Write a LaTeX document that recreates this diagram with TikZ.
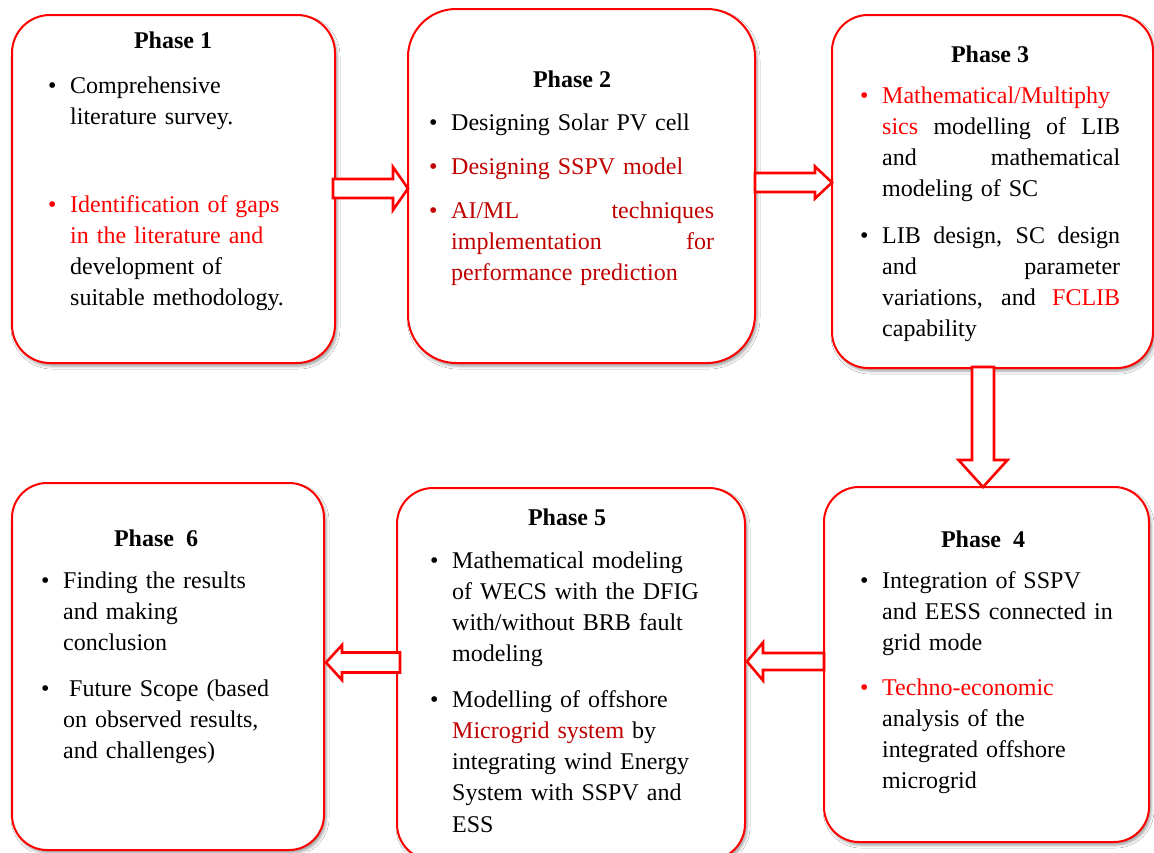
\documentclass[tikz,border=0pt]{standalone}
\usepackage{fontspec}
\setmainfont{Liberation Serif}
\usetikzlibrary{shadows.blur}
\definecolor{bred}{HTML}{FF0000}
\definecolor{dred}{HTML}{C00000}
% bullet hanging to the left of an item's first line
\newcommand{\itm}[1][black]{\llap{\makebox[22pt][l]{\color{#1}\textbullet}}}
% a fully justified line (word spaces allowed to stretch)
\newcommand{\jl}[1]{\makebox[\linewidth][s]{\spaceskip=.3333em plus 20em\relax #1}}
\tikzset{
  phasebox/.style={draw=bred, line width=2pt, fill=white, rounded corners=#1,
    inner sep=0pt, outer sep=0pt, anchor=north west,
    blur shadow={shadow xshift=2pt, shadow yshift=-3pt, shadow blur radius=3pt, shadow opacity=40}},
  phasebox/.default=36pt,
  blockarrow/.style={draw=bred, line width=2.6pt, fill=white, line join=miter},
  ttl/.style={anchor=base, inner sep=0pt, font=\fontsize{24}{31.3}\selectfont\bfseries},
  itemtxt/.style={anchor=base west, inner sep=0pt, align=left, text width=#1,
    font=\fontsize{24}{31.3}\selectfont},
  itemtxt/.default=260pt,
}
\begin{document}
\begin{tikzpicture}[x=1pt, y={(0pt,-1pt)}]
\fill[white] (0,0) rectangle (1154,852);
\useasboundingbox (0,0) rectangle (1154,852);

% phase boxes
\node[phasebox=38pt, minimum width=323pt, minimum height=348pt] (p1) at (12,15) {};
\node[phasebox=48pt, minimum width=347pt, minimum height=354pt] (p2) at (408,9) {};
\node[phasebox=36pt, minimum width=321pt, minimum height=353pt] (p3) at (832,15) {};
\node[phasebox=35pt, minimum width=325pt, minimum height=355pt] (p4) at (824,487) {};
\node[phasebox=36pt, minimum width=348pt, minimum height=372pt] (p5) at (397,488) {};
\node[phasebox=35pt, minimum width=312pt, minimum height=367pt] (p6) at (12,483) {};

% block arrows between the phases (tail on one box, tip on the next)
\coordinate (a12) at (p1.east |- 0,188.5);
\coordinate (a23) at (p2.east |- 0,182.5);
\coordinate (a34) at (p3.south -| 983,0);
\coordinate (a45) at (p4.west |- 0,661.5);
\coordinate (a56) at (p5.west |- 0,662.5);
\draw[blockarrow] (a12) ++(-2,-9.5) -- (393,179) -- (393,167) -- (p2.west |- 0,188.5)
  -- (393,210) -- (393,198) -- (333,198) -- cycle;
\draw[blockarrow] (a23) ++(0,-9.5) -- (815,173) -- (815,166.5) -- (p3.west |- 0,182.5)
  -- (815,198.5) -- (815,192) -- (755,192) -- cycle;
\draw[blockarrow] (a34) ++(-11,-1) -- (994,367) -- (994,460) -- (1007.5,460)
  -- (p4.north -| 983,0) -- (958.5,460) -- (972,460) -- cycle;
\draw[blockarrow] (a45) ++(0,-8.5) -- (763,653) -- (763,642.5) -- (747,661.5)
  -- (763,680.5) -- (763,670) -- (824,670) -- cycle;
\draw[blockarrow] (a56) ++(3,-10) -- (342,652.5) -- (342,645) -- (326,662.5)
  -- (342,680) -- (342,672.5) -- (400,672.5) -- cycle;

% Phase 1
\node[ttl] (t1) at (173,48) {Phase 1};
\node[itemtxt] (i11) at (70,93) {\itm Comprehensive\\literature survey.};
\node[itemtxt] (i12) at (70,212) {\itm[bred]\color{bred}Identification of gaps\\in the literature and\\\color{black}development of\\suitable methodology.};

% Phase 2
\node[ttl] (t2) at (572,87) {Phase 2};
\node[itemtxt=263pt] (i21) at (451,130) {\itm Designing Solar PV cell};
\node[itemtxt=263pt] (i22) at (451,174) {\itm[dred]\color{dred}Designing SSPV model};
\node[itemtxt=263pt] (i23) at (451,218) {\itm[dred]\color{dred}\jl{AI/ML techniques}\\\jl{implementation for}\\performance prediction};

% Phase 3
\node[ttl] (t3) at (990,62) {Phase 3};
\node[itemtxt=238pt] (i31) at (882,103) {\itm[bred]{\color{bred}Mathematical/Multiphy}\\\jl{{\color{bred}sics} modelling of LIB}\\\jl{and mathematical}\\modeling of SC};
\node[itemtxt=238pt] (i32) at (882,243) {\itm\jl{LIB design, SC design}\\\jl{and parameter}\\\jl{variations, and {\color{bred}FCLIB}}\\capability};

% Phase 4
\node[ttl] (t4) at (983,547) {Phase\ \ 4};
\node[itemtxt=250pt] (i41) at (882,588) {\itm Integration of SSPV\\and EESS connected in\\grid mode};
\node[itemtxt=250pt] (i42) at (882,695) {\itm[bred]{\color{bred}Techno-economic}\\analysis of the\\integrated offshore\\microgrid};

% Phase 5
\node[ttl] (t5) at (567,525) {Phase 5};
\node[itemtxt=270pt] (i51) at (452,568) {\itm Mathematical modeling\\of WECS with the DFIG\\with/without BRB fault\\modeling};
\node[itemtxt=270pt] (i52) at (452,707) {\itm Modelling of offshore\\{\color{dred}Microgrid system} by\\integrating wind Energy\\System with SSPV and\\ESS};

% Phase 6
\node[ttl] (t6) at (156,546) {Phase\ \ 6};
\node[itemtxt=245pt] (i61) at (63,588) {\itm Finding the results\\and making\\conclusion};
\node[itemtxt=245pt] (i62) at (63,696) {\itm\hspace*{6pt}Future Scope (based\\on observed results,\\and challenges)};
\end{tikzpicture}
\end{document}
